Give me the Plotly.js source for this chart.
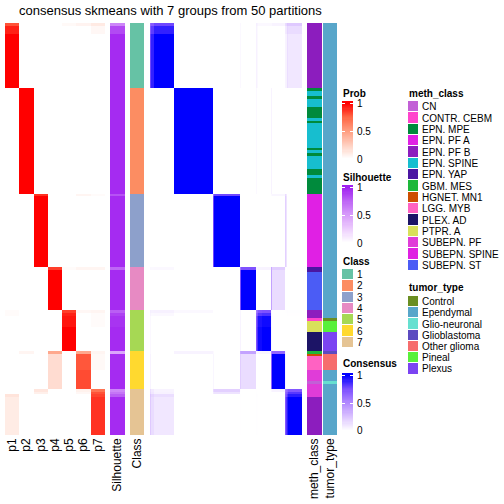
<!DOCTYPE html>
<html><head><meta charset="utf-8">
<script src="https://cdn.plot.ly/plotly-3.0.1.min.js"></script>
<style>html,body{margin:0;padding:0;background:#fff}#chart{width:504px;height:504px}</style>
</head><body><div id="chart"></div>
<script>
// ---------------- data ----------------
const probCols = ['p1','p2','p3','p4','p5','p6','p7'];
const classLabels = ['1','2','3','4','5','6','7'];
const classColors = ['#66C2A5','#FC8D62','#8DA0CB','#E78AC3','#A6D854','#FFD92F','#E5C494'];

// row segments (top to bottom)
const segClass = [1,1,1,2,3,3,4,4,5,5,5,5,6,6,6,7,7,7,7];
const segCount = [1,3,20,39,1,26,1,15,1,1,4,9,1,6,7,1,1,1,14];
const segProb = [
  [0.80,0,0,0,0.03,0.06,0.11],
  [0.92,0,0,0,0,0,0.04],
  [1,0,0,0,0,0,0],
  [0,1,0,0,0,0,0],
  [0,0,0.88,0,0,0.05,0.02],
  [0,0,1,0,0,0,0],
  [0,0,0,0.85,0.02,0.05,0.05],
  [0,0,0,1,0,0,0],
  [0.02,0,0,0,0.85,0.04,0.05],
  [0.02,0,0,0,0.92,0,0.02],
  [0,0,0,0,0.95,0,0.02],
  [0,0,0,0,1,0,0],
  [0,0.05,0,0.45,0,0.45,0.05],
  [0,0,0,0.18,0,0.79,0.03],
  [0,0,0,0.18,0,0.82,0],
  [0,0,0.13,0,0,0.07,0.70],
  [0,0,0.08,0,0,0.04,0.80],
  [0.14,0,0,0,0,0,0.84],
  [0.10,0,0,0,0,0,0.88]
];
const segSil = [0.60,0.85,0.96,0.96,0.82,0.96,0.75,0.96,0.78,0.88,0.93,0.96,0.45,0.95,0.96,0.60,0.68,0.78,0.96];
// co-clustering profile of each segment with each class (consensus = overlap of profiles)
const segCons = [
  [0.78,0,0,0,0.03,0.05,0.15],
  [0.90,0,0,0,0,0,0.06],
  [1,0,0,0,0,0,0],
  [0,1,0,0,0,0,0],
  [0,0,0.78,0,0,0.04,0],
  [0,0,1,0,0,0,0],
  [0.03,0,0,0.75,0.05,0.10,0],
  [0,0,0,1,0,0,0],
  [0.06,0.03,0,0,0.75,0,0],
  [0.03,0,0,0,0.85,0,0],
  [0,0,0,0,0.97,0,0],
  [0,0,0,0,1,0,0],
  [0,0.05,0,0.40,0.04,0.60,0],
  [0,0,0,0.15,0,1,0],
  [0,0,0,0.15,0,1,0],
  [0.05,0,0.20,0,0,0.05,0.72],
  [0.06,0,0.12,0,0,0,0.82],
  [0.14,0,0,0,0,0,0.90],
  [0.10,0,0,0,0,0,1]
];

const methLabels = ['CN','CONTR. CEBM','EPN. MPE','EPN. PF A','EPN. PF B','EPN. SPINE','EPN. YAP','GBM. MES','HGNET. MN1','LGG. MYB','PLEX. AD','PTPR. A','SUBEPN. PF','SUBEPN. SPINE','SUBEPN. ST'];
const methColors = ['#C260D6','#FF44CC','#008A3C','#E020E4','#8C1DBE','#17BECF','#4A16A2','#1DB83A','#CC4E00','#FF62C2','#1C1466','#D9E05A','#E03CD8','#DF20E2','#4B5CF5'];
const methRunLabel = ['EPN. PF B',
  'EPN. MPE','EPN. SPINE','EPN. MPE','EPN. SPINE','EPN. MPE','EPN. SPINE','EPN. MPE','EPN. SPINE','EPN. MPE','EPN. SPINE','EPN. MPE','EPN. SPINE','EPN. MPE','EPN. SPINE','EPN. MPE',
  'EPN. PF A','EPN. YAP','SUBEPN. ST',
  'EPN. PF B','CONTR. CEBM','PTPR. A','PLEX. AD',
  'GBM. MES','HGNET. MN1','LGG. MYB','SUBEPN. PF','CN','SUBEPN. PF',
  'SUBEPN. PF','EPN. PF B'];
const methRunCount = [24, 1,2,1,3,4,1,1,9,1,1,1,5,2,1,6, 27,2,14, 3,1,4,7, 1,1,5,4,1,2, 3,14];

const tumorLabels = ['Control','Ependymal','Glio-neuronal','Glioblastoma','Other glioma','Pineal','Plexus'];
const tumorColors = ['#6A8E22','#58A6CA','#66E0D0','#5C4BC0','#F66D6D','#58F03A','#7B44F2'];
const tumorRunLabel = ['Ependymal','Ependymal','Control','Pineal','Plexus','Glioblastoma','Other glioma','Ependymal','Glio-neuronal','Ependymal','Ependymal'];
const tumorRunCount = [106,3,1,4,7,1,6,4,1,2,17];

const legendTickVals = [0,0.5,1];
const legendTickText = ['0','0.5','1'];

// ---------------- build ----------------
const prob=[], sil=[], cls=[], prof=[];
segCount.forEach((n,s)=>{for(let r=0;r<n;r++){prob.push(segProb[s]);sil.push([segSil[s]]);cls.push([segClass[s]-1]);prof.push(segCons[s]);}});
const N = prob.length;
const rows = prob.map((_,i)=>i);
const consZ = prof.map(a=>prof.map(b=>Math.min(1,a.reduce((t,v,k)=>t+v*b[k],0))));
function expand(lbls,cnts,cats){const o=[];lbls.forEach((l,i)=>{for(let r=0;r<cnts[i];r++)o.push([cats.indexOf(l)]);});return o;}
const methZ = expand(methRunLabel,methRunCount,methLabels);
const tumorZ = expand(tumorRunLabel,tumorRunCount,tumorLabels);

function discrete(cols){const n=cols.length,s=[];cols.forEach((c,k)=>{s.push([k/n,c]);s.push([(k+1)/n,c]);});return s;}
const probScale=[[0,'#FFFFFF'],[0.25,'rgb(255,207,191)'],[0.5,'rgb(255,158,129)'],[0.75,'rgb(255,104,70)'],[1,'#FF0000']];
const silScale=[[0,'#FFFFFF'],[0.25,'rgb(237,205,253)'],[0.5,'rgb(215,155,250)'],[0.75,'rgb(190,102,245)'],[1,'#A020F0']];
const consScale=[[0,'#FFFFFF'],[0.25,'rgb(220,196,255)'],[0.5,'rgb(179,139,255)'],[0.75,'rgb(126,81,255)'],[1,'#0000FF']];

const W=504,H=504;
const fx=p=>p/W, fy=p=>1-p/H;
const FONT='Liberation Sans, Arial, Helvetica, sans-serif';

const hm=(o)=>Object.assign({type:'heatmap',showscale:false,hoverinfo:'skip',zsmooth:false},o);
// legend gradient (slightly beyond 0..1 so the bar ends past the end labels)
const grad=[];for(let v=-0.06;v<=1.0601;v+=0.02)grad.push(+v.toFixed(2));
const gradZ=grad.map(v=>[Math.max(0,Math.min(1,v))]);

const data=[
  hm({x:probCols,y:rows,z:prob,colorscale:probScale,zmin:0,zmax:1,xaxis:'x',yaxis:'y'}),
  hm({x:['Silhouette'],y:rows,z:sil,colorscale:silScale,zmin:0,zmax:1,xaxis:'x2',yaxis:'y'}),
  hm({x:['Class'],y:rows,z:cls,colorscale:discrete(classColors),zmin:-0.5,zmax:classColors.length-0.5,xaxis:'x3',yaxis:'y'}),
  hm({x:rows,y:rows,z:consZ,colorscale:consScale,zmin:0,zmax:1,xaxis:'x4',yaxis:'y'}),
  hm({x:['meth_class'],y:rows,z:methZ,colorscale:discrete(methColors),zmin:-0.5,zmax:methColors.length-0.5,xaxis:'x5',yaxis:'y'}),
  hm({x:['tumor_type'],y:rows,z:tumorZ,colorscale:discrete(tumorColors),zmin:-0.5,zmax:tumorColors.length-0.5,xaxis:'x6',yaxis:'y'}),
  // legends
  hm({x:[0],y:grad,z:gradZ,colorscale:probScale,zmin:0,zmax:1,xaxis:'x7',yaxis:'y2'}),
  hm({x:[0],y:grad,z:gradZ,colorscale:silScale,zmin:0,zmax:1,xaxis:'x8',yaxis:'y3'}),
  hm({x:[0],y:grad,z:gradZ,colorscale:consScale,zmin:0,zmax:1,xaxis:'x9',yaxis:'y4'}),
  hm({x:[0],y:classLabels,z:classLabels.map((_,k)=>[k]),colorscale:discrete(classColors),zmin:-0.5,zmax:classColors.length-0.5,xaxis:'x10',yaxis:'y5',ygap:1}),
  hm({x:[0],y:methLabels,z:methLabels.map((_,k)=>[k]),colorscale:discrete(methColors),zmin:-0.5,zmax:methColors.length-0.5,xaxis:'x11',yaxis:'y6',ygap:1}),
  hm({x:[0],y:tumorLabels,z:tumorLabels.map((_,k)=>[k]),colorscale:discrete(tumorColors),zmin:-0.5,zmax:tumorColors.length-0.5,xaxis:'x12',yaxis:'y7',ygap:1})
];

const base={showgrid:false,zeroline:false,showline:false,ticks:'',fixedrange:true};
const xlab=(d)=>Object.assign({},base,{domain:[fx(d[0]),fx(d[1])],anchor:'y',type:'category',tickangle:-90,tickfont:{size:12,color:'#000'}});
const legX=(d,a)=>Object.assign({},base,{domain:[fx(d[0]),fx(d[1])],anchor:a,showticklabels:false,range:[-0.5,0.5]});
// top/bottom = pixel edges of the bar, y1/y0 = pixel positions of value 1 and 0
const barY=(top,y1,y0,bottom,a)=>{const u=(y0-y1);return Object.assign({},base,{domain:[fy(bottom),fy(top)],anchor:a,side:'right',
  range:[-(bottom-y0)/u,1+(y1-top)/u],tickvals:legendTickVals,ticktext:legendTickText,ticks:'inside',ticklen:3,tickcolor:'#FFFFFF',mirror:'ticks',ticklabelstandoff:3,tickfont:{size:10,color:'#000'}});};
const catY=(d,a,lbls)=>Object.assign({},base,{domain:[fy(d[1]),fy(d[0])],anchor:a,side:'right',type:'category',autorange:'reversed',tickmode:'array',tickvals:lbls,ticktext:lbls,ticklabelstandoff:3,tickfont:{size:10,color:'#000'}});

const title=(t,x,y,sz,bold)=>({text:bold?'<b>'+t+'</b>':t,x:fx(x),y:fy(y),xref:'paper',yref:'paper',xanchor:bold?'left':'center',yanchor:'middle',showarrow:false,font:{size:sz,color:'#000',family:FONT}});

const layout={
  width:W,height:H,margin:{l:0,r:0,t:0,b:0},paper_bgcolor:'#fff',plot_bgcolor:'rgba(0,0,0,0)',
  font:{family:FONT,color:'#000'},showlegend:false,
  xaxis:xlab([5,105]),
  xaxis2:xlab([110,125]),
  xaxis3:xlab([130,144]),
  xaxis4:Object.assign({},base,{domain:[fx(150),fx(302)],anchor:'y',showticklabels:false,range:[-0.5,N-0.5]}),
  xaxis5:xlab([307,322]),
  xaxis6:xlab([323,337]),
  yaxis:Object.assign({},base,{domain:[fy(435),fy(23)],anchor:'x',showticklabels:false,range:[N-0.5,-0.5]}),
  xaxis7:legX([342,353],'y2'), yaxis2:barY(101,103.5,159,161,'x7'),
  xaxis8:legX([342,353],'y3'), yaxis3:barY(185,187.5,243,245,'x8'),
  xaxis9:legX([342,353],'y4'), yaxis4:barY(373,375.5,430.5,432.5,'x9'),
  xaxis10:legX([342,353],'y5'), yaxis5:catY([269,348],'x10',classLabels),
  xaxis11:legX([408,418],'y6'), yaxis6:catY([101,271],'x11',methLabels),
  xaxis12:legX([408,418],'y7'), yaxis7:catY([296,374.5],'x12',tumorLabels),
  annotations:[
    title('consensus skmeans with 7 groups from 50 partitions',170,10,13,false),
    title('Prob',341,93,10,true),
    title('Silhouette',341,177,10,true),
    title('Class',341,261,10,true),
    title('Consensus',341,363,10,true),
    title('meth_class',407,93,10,true),
    title('tumor_type',407,287,10,true)
  ]
};
Plotly.newPlot('chart',data,layout,{displayModeBar:false,staticPlot:true});
</script></body></html>
